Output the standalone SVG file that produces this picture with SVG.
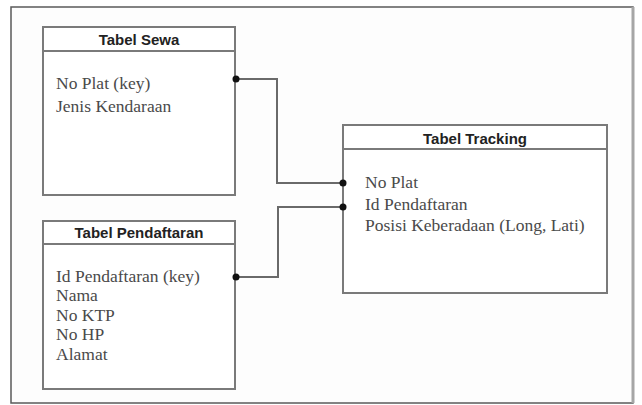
<svg xmlns="http://www.w3.org/2000/svg" width="642" height="405" viewBox="0 0 642 405">
  <style>
    .box { fill: #ffffff; stroke: #7a7a7a; stroke-width: 2; }
    .sep { stroke: #7a7a7a; stroke-width: 2; }
    .title { font-family: "Liberation Sans", Arial, sans-serif; font-weight: bold; font-size: 15px; fill: #222222; text-anchor: middle; }
    .field { font-family: "Liberation Serif", "Times New Roman", serif; font-size: 17.5px; fill: #4a4a4a; }
    .wire { fill: none; stroke: #6a6a6a; stroke-width: 2; }
    .dot { fill: #111111; }
  </style>

  <!-- window frame -->
  <rect x="0" y="0" width="642" height="405" fill="#ffffff"/>
  <rect x="11" y="7" width="622" height="396" fill="#fdfdfd" stroke="#5a5a5a" stroke-width="1.5"/>
  <line x1="633" y1="7" x2="633" y2="403" stroke="#a6a6a6" stroke-width="3"/>

  <g id="tabel-sewa">
    <rect class="box" x="43" y="27" width="192" height="168"/>
    <line class="sep" x1="43" y1="51" x2="235" y2="51"/>
    <text class="title" x="139" y="45">Tabel Sewa</text>
    <text class="field" x="56" y="89">No Plat (key)</text>
    <text class="field" x="56" y="112">Jenis Kendaraan</text>
  </g>

  <g id="tabel-pendaftaran">
    <rect class="box" x="43" y="221" width="192" height="168"/>
    <line class="sep" x1="43" y1="244" x2="235" y2="244"/>
    <text class="title" x="139" y="238">Tabel Pendaftaran</text>
    <text class="field" x="56" y="282">Id Pendaftaran (key)</text>
    <text class="field" x="56" y="301">Nama</text>
    <text class="field" x="56" y="321">No KTP</text>
    <text class="field" x="56" y="340">No HP</text>
    <text class="field" x="56" y="360">Alamat</text>
  </g>

  <g id="tabel-tracking">
    <rect class="box" x="343" y="125" width="264" height="168"/>
    <line class="sep" x1="343" y1="149" x2="607" y2="149"/>
    <text class="title" x="475" y="144">Tabel Tracking</text>
    <text class="field" x="365" y="188">No Plat</text>
    <text class="field" x="365" y="210">Id Pendaftaran</text>
    <text class="field" x="365" y="231">Posisi Keberadaan (Long, Lati)</text>
  </g>

  <!-- relations, drawn over the table borders so the end dots stay whole -->
  <g id="connectors">
    <polyline class="wire" points="236,79 277,79 277,183 343,183"/>
    <polyline class="wire" points="236,277 278,277 278,207 343,207"/>
    <circle class="dot" cx="236" cy="79" r="3.5"/>
    <circle class="dot" cx="343" cy="183" r="3.5"/>
    <circle class="dot" cx="236" cy="277" r="3.5"/>
    <circle class="dot" cx="343" cy="207" r="3.5"/>
  </g>
</svg>
